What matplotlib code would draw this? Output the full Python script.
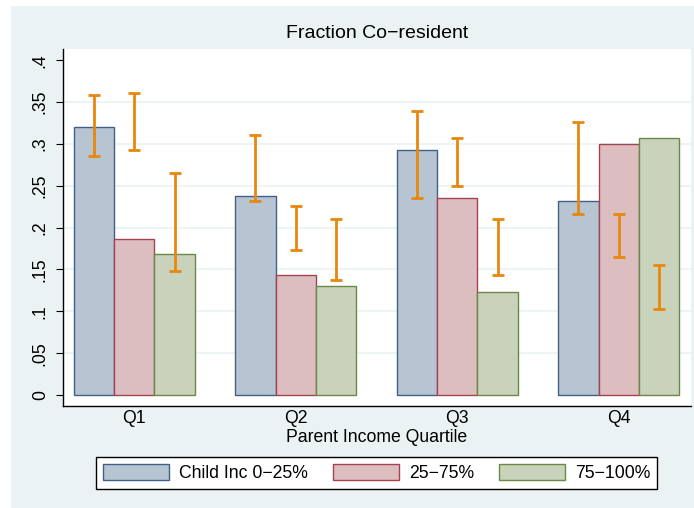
import matplotlib
matplotlib.use("Agg")
import matplotlib.pyplot as plt
import numpy as np
from matplotlib.patches import Rectangle

plt.rcParams['font.family'] = ['Liberation Sans', 'DejaVu Sans']

categories = ["Q1", "Q2", "Q3", "Q4"]
series_names = ["Child Inc 0\u221225%", "25\u221275%", "75\u2212100%"]
# bar heights
low = [0.320, 0.238, 0.293, 0.232]
mid = [0.187, 0.144, 0.235, 0.300]
high = [0.169, 0.130, 0.123, 0.307]
# error bar ranges (lower, upper)
low_ci_lo = [0.286, 0.232, 0.235, 0.216]
low_ci_hi = [0.358, 0.311, 0.339, 0.326]
mid_ci_lo = [0.293, 0.173, 0.250, 0.165]
mid_ci_hi = [0.361, 0.226, 0.307, 0.216]
high_ci_lo = [0.148, 0.138, 0.144, 0.103]
high_ci_hi = [0.265, 0.210, 0.210, 0.155]
yticks = [0, 0.05, 0.1, 0.15, 0.2, 0.25, 0.3, 0.35, 0.4]
yticklabels = ["0", ".05", ".1", ".15", ".2", ".25", ".3", ".35", ".4"]

bg = "#EAF2F3"
fills = ["#B7C4D1", "#DCBEC1", "#C9D3BB"]
edges = ["#3E6188", "#A4434E", "#688A45"]
err_color = "#E8870E"
fs = 12.7

fig = plt.figure(figsize=(6.94, 5.08), dpi=100, facecolor="white")
fig.patches.append(Rectangle((11/694, 0), 1 - 11/694, 1 - 6/508, transform=fig.transFigure,
                             facecolor=bg, edgecolor="none", zorder=-10))

ax = fig.add_axes([62.7/694, 1 - 406/508, (690.7 - 62.7)/694, (406 - 49)/508])
ax.set_facecolor("white")

centers = np.arange(len(categories)) * 4.0
series = [low, mid, high]
ci_lo = [low_ci_lo, mid_ci_lo, high_ci_lo]
ci_hi = [low_ci_hi, mid_ci_hi, high_ci_hi]
handles = []
for i in range(3):
    xs = centers + (i - 1)
    h = ax.bar(xs, series[i], width=1.0, color=fills[i], edgecolor=edges[i], linewidth=1.0,
               label=series_names[i], zorder=2)
    handles.append(h)
for i in range(3):
    xs = centers + (i - 1)
    lo = np.array(ci_lo[i]); hi = np.array(ci_hi[i])
    mids = (lo + hi) / 2
    ax.errorbar(xs, mids, yerr=(hi - lo) / 2, fmt="none", ecolor=err_color, elinewidth=2.0,
                capsize=4, capthick=2.0, zorder=3)

for t in yticks[1:-1]:
    ax.axhline(t, color=bg, linewidth=1.2, zorder=1)

ax.set_xlim(-1.772, 13.78)
ax.set_ylim(-0.01315, 0.4135)
ax.set_yticks(yticks)
ax.set_yticklabels(yticklabels, rotation=90, va="center", fontsize=fs)
ax.set_xticks(centers)
ax.set_xticklabels(categories, fontsize=fs)
ax.tick_params(axis="x", length=0, pad=3)
ax.tick_params(axis="y", length=5, width=0.8, pad=5)
for s in ["top", "right"]:
    ax.spines[s].set_visible(False)
for s in ["left", "bottom"]:
    ax.spines[s].set_linewidth(1.0)
    ax.spines[s].set_color("black")
ax.set_xlabel("Parent Income Quartile", fontsize=fs, labelpad=1)

fig.text(376.7/694, 1 - 34/508, "Fraction Co\u2212resident", ha="center", va="center", fontsize=14)

leg = fig.legend(handles=handles, labels=series_names, loc="center",
                 bbox_to_anchor=(376.7/694, 1 - 472.8/508), ncol=3, fontsize=fs,
                 frameon=True, fancybox=False, edgecolor="black", framealpha=1,
                 handlelength=3.74, handleheight=1.0, handletextpad=0.59, columnspacing=1.38,
                 borderpad=0.4, borderaxespad=0)
leg.get_frame().set_linewidth(1.0)

fig.savefig("out.png", dpi=100, facecolor="white")
